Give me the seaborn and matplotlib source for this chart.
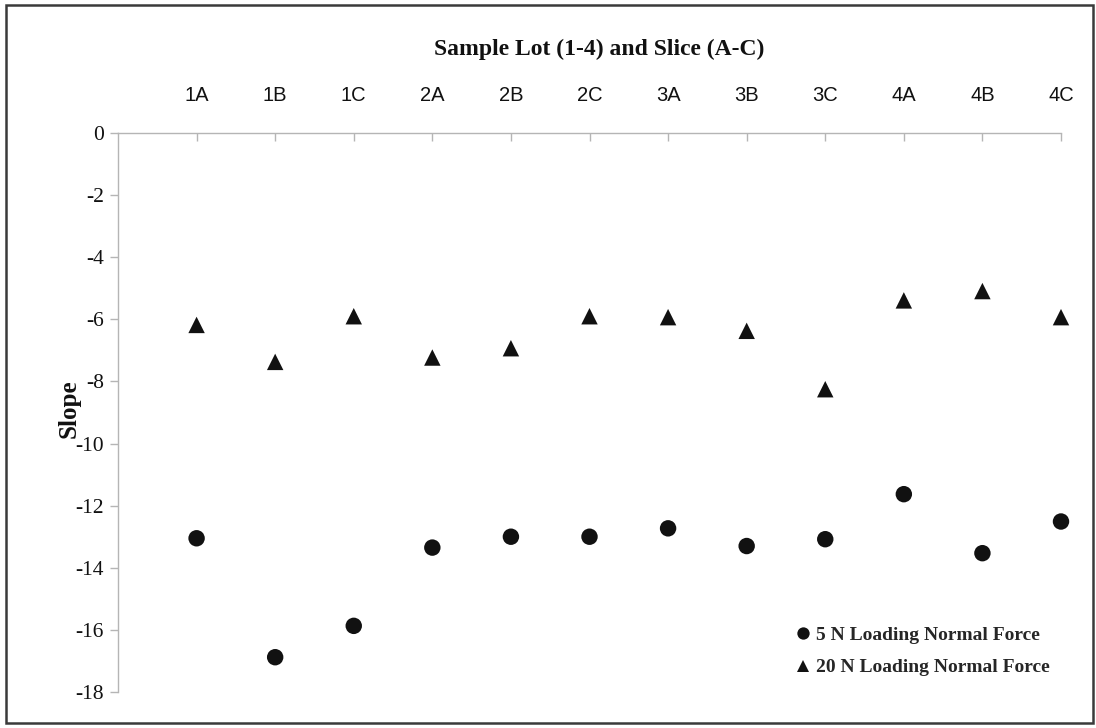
import matplotlib
matplotlib.use("Agg")
import matplotlib.pyplot as plt
from matplotlib import font_manager
from matplotlib.patches import Rectangle
import seaborn as sns
import pandas as pd

# ---- data ----
categories = ['1A', '1B', '1C', '2A', '2B', '2C', '3A', '3B', '3C', '4A', '4B', '4C']
slope_5N = [-13.05, -16.88, -15.87, -13.35, -13.0, -13.0, -12.73, -13.30, -13.08, -11.63, -13.53, -12.51]
slope_20N = [-6.18, -7.37, -5.90, -7.23, -6.93, -5.90, -5.93, -6.37, -8.25, -5.39, -5.09, -5.93]
series_names = ['5 N Loading Normal Force', '20 N Loading Normal Force']
y_ticks = list(range(-18, 1, 2))
title_text = 'Sample Lot (1-4) and Slice (A-C)'
y_label = 'Slope'

df = pd.DataFrame({'Sample': categories, series_names[0]: slope_5N, series_names[1]: slope_20N})
long = df.melt(id_vars='Sample', var_name='Load', value_name='Slope')

sns.set_theme(style='white')
plt.rcParams['font.family'] = ['Liberation Serif', 'DejaVu Serif']

def has_font(name):
    try:
        font_manager.findfont(font_manager.FontProperties(family=name), fallback_to_default=False)
        return True
    except Exception:
        return False

narrow = has_font('Liberation Sans Narrow')
xfam = 'Liberation Sans Narrow' if narrow else 'Liberation Sans'
xsize = 17 if narrow else 14.5

fig = plt.figure(figsize=(10.96, 7.28), dpi=100)
ax = fig.add_axes([118/1096, 1 - 692/728, (1061 - 118)/1096, (692 - 133)/728])

sns.scatterplot(data=long, x='Sample', y='Slope', style='Load',
                markers={series_names[0]: 'o', series_names[1]: '^'},
                color='#111111', s=140, linewidth=0, clip_on=False, ax=ax)

ax.set_xlim(-1, 11)
ax.set_ylim(-18, 0)
ax.set_yticks(y_ticks)
ax.set_yticklabels([str(v) for v in y_ticks], fontsize=15.5, color='#111111')

ax.xaxis.tick_top()
ax.xaxis.set_label_position('top')
ax.set_xlabel('')
ax.tick_params(axis='x', direction='in', length=6, width=1, color='#b5b5b5', pad=20,
               labelsize=xsize, labelcolor='#111111')
for lab in ax.get_xticklabels():
    lab.set_fontfamily(xfam)
ax.tick_params(axis='y', direction='out', length=6, width=1, color='#b5b5b5', pad=4, left=True)

for side in ['bottom', 'right']:
    ax.spines[side].set_visible(False)
for side in ['top', 'left']:
    ax.spines[side].set_color('#b5b5b5')
    ax.spines[side].set_linewidth(1.0)

ax.set_ylabel(y_label, fontsize=18, fontweight='bold', color='#111111')
ax.yaxis.set_label_coords(-0.040, 0.506)

ax.text(0.51, 1 + (133 - 49)/559, title_text, transform=ax.transAxes, ha='center', va='center',
        fontsize=17, fontweight='bold', color='#111111')

leg0 = ax.get_legend()
handles = leg0.legend_handles
labels = [t.get_text() for t in leg0.get_texts()]
leg0.remove()
ax.legend(handles, labels, loc='upper left', bbox_to_anchor=((795 - 118)/943, (692 - 626)/559),
          frameon=False, borderaxespad=0, borderpad=0, handlelength=0.8, handletextpad=0.3,
          labelspacing=0.78, markerscale=0.75,
          prop={'family': 'Liberation Serif', 'weight': 'bold', 'size': 14.0})

fig.patches.append(Rectangle((6/1096, 1 - 723/728), (1093 - 6)/1096, (723 - 5)/728,
                             transform=fig.transFigure, fill=False, edgecolor='#3a3a3a', linewidth=1.8))

fig.savefig('out.png', dpi=100, facecolor='white')
